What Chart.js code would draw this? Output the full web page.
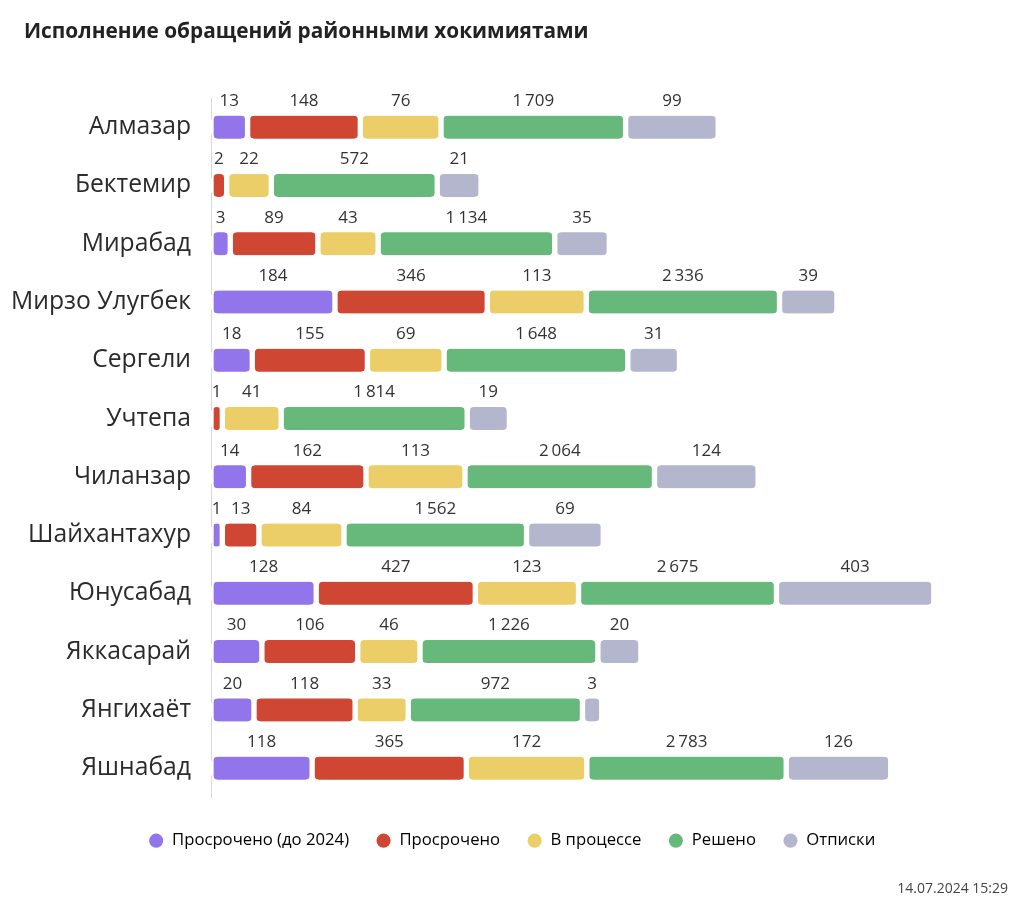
<!DOCTYPE html>
<html>
<head>
<meta charset="utf-8">
<script src="https://cdn.jsdelivr.net/npm/chart.js@4.4.1/dist/chart.umd.min.js"></script>
<style>
  html, body { margin: 0; padding: 0; background: #fff; }
  #wrap { position: relative; width: 1024px; height: 910px; }
  #title { position: absolute; left: 24px; top: 16px; font-family: 'Open Sans', sans-serif; font-weight: 700; font-size: 20.8px; color: #222; white-space: nowrap; }
  #stamp { position: absolute; right: 16px; top: 878px; font-family: 'Open Sans', sans-serif; font-size: 14px; color: #444; }
  canvas { position: absolute; left: 0; top: 0; }
</style>
</head>
<body>
<div id="wrap">
  <canvas id="c" width="1024" height="910"></canvas>
  <div id="title">Исполнение обращений районными хокимиятами</div>
  <div id="stamp">14.07.2024 15:29</div>
</div>
<script>
const categories = ['Алмазар', 'Бектемир', 'Мирабад', 'Мирзо Улугбек', 'Сергели', 'Учтепа', 'Чиланзар', 'Шайхантахур', 'Юнусабад', 'Яккасарай', 'Янгихаёт', 'Яшнабад'];
const seriesNames = ['Просрочено (до 2024)', 'Просрочено', 'В процессе', 'Решено', 'Отписки'];
const overdueOld = [13, 0, 3, 184, 18, 0, 14, 1, 128, 30, 20, 118];
const overdue = [148, 2, 89, 346, 155, 1, 162, 13, 427, 106, 118, 365];
const inProgress = [76, 22, 43, 113, 69, 41, 113, 84, 123, 46, 33, 172];
const resolved = [1709, 572, 1134, 2336, 1648, 1814, 2064, 1562, 2675, 1226, 972, 2783];
const replies = [99, 21, 35, 39, 31, 19, 124, 69, 403, 20, 3, 126];
const seriesColors = ['#9274EB', '#CF4633', '#EBCE67', '#67B87B', '#B4B6CE'];

// Compressed display length of a segment (the original chart is not linear), plus white gaps
const GAP = 3;
function segLen(v) {
  if (!v) return null;
  const len = 20 * (1 - Math.exp(-v / 4)) + 135 * (1 - Math.exp(-v / 150)) + 0.0138 * v;
  return len + 2 * GAP;
}
function fmt(v) {
  return String(v).replace(/\B(?=(\d{3})+(?!\d))/g, '\u2009');
}

const seriesValues = [overdueOld, overdue, inProgress, resolved, replies];
const PAD_L = 0, PAD_R = 0, AXIS_X = 211;

const valueLabels = {
  id: 'valueLabels',
  afterDatasetsDraw(chart) {
    const ctx = chart.ctx;
    ctx.save();
    ctx.font = '17px "Open Sans", sans-serif';
    ctx.fillStyle = '#333';
    ctx.textAlign = 'center';
    ctx.textBaseline = 'middle';
    chart.data.datasets.forEach((ds, di) => {
      const meta = chart.getDatasetMeta(di);
      meta.data.forEach((el, i) => {
        const raw = ds.raw[i];
        if (!raw) return;
        const cx = (el.x + el.base) / 2;
        ctx.fillText(fmt(raw), cx, el.y - 26);
      });
    });
    ctx.restore();
  }
};

new Chart(document.getElementById('c'), {
  type: 'bar',
  data: {
    labels: categories,
    datasets: seriesValues.map((vals, i) => ({
      label: seriesNames[i],
      raw: vals,
      data: vals.map(segLen),
      backgroundColor: seriesColors[i],
      borderColor: '#ffffff',
      borderWidth: { left: GAP, right: GAP, top: 0, bottom: 0 },
      borderSkipped: false,
      borderRadius: { topLeft: 7, topRight: 7, bottomLeft: 7, bottomRight: 7 },
      barThickness: 23
    }))
  },
  options: {
    indexAxis: 'y',
    responsive: false,
    animation: false,
    layout: { padding: { left: PAD_L, right: PAD_R, top: 98, bottom: 51 } },
    scales: {
      x: {
        stacked: true,
        min: 0,
        max: 1024 - PAD_R - AXIS_X,
        display: true,
        ticks: { display: false },
        grid: { display: false, drawTicks: false },
        border: { display: false },
        afterFit: (s) => { s.height = 8; }
      },
      y: {
        stacked: true,
        z: 1,
        grid: { display: false, drawTicks: false },
        border: { display: true, color: '#D6D6EA', width: 1 },
        ticks: {
          autoSkip: false,
          padding: 20,
          color: '#2b2b2b',
          font: { family: '"Open Sans", sans-serif', size: 24.7 }
        },
        afterFit: (s) => { s.width = AXIS_X - PAD_L; }
      }
    },
    plugins: {
      tooltip: { enabled: false },
      legend: {
        position: 'bottom',
        labels: {
          usePointStyle: true,
          pointStyle: 'circle',
          boxWidth: 15,
          boxHeight: 10,
          padding: 27,
          color: '#333',
          font: { family: '"Open Sans", sans-serif', size: 16.7 },
          generateLabels: (chart) => chart.data.datasets.map((ds, i) => ({
            text: ds.label,
            fillStyle: ds.backgroundColor,
            strokeStyle: ds.backgroundColor,
            lineWidth: 0,
            pointStyle: 'circle',
            hidden: false,
            datasetIndex: i
          }))
        }
      }
    }
  },
  plugins: [valueLabels]
});
</script>
</body>
</html>
